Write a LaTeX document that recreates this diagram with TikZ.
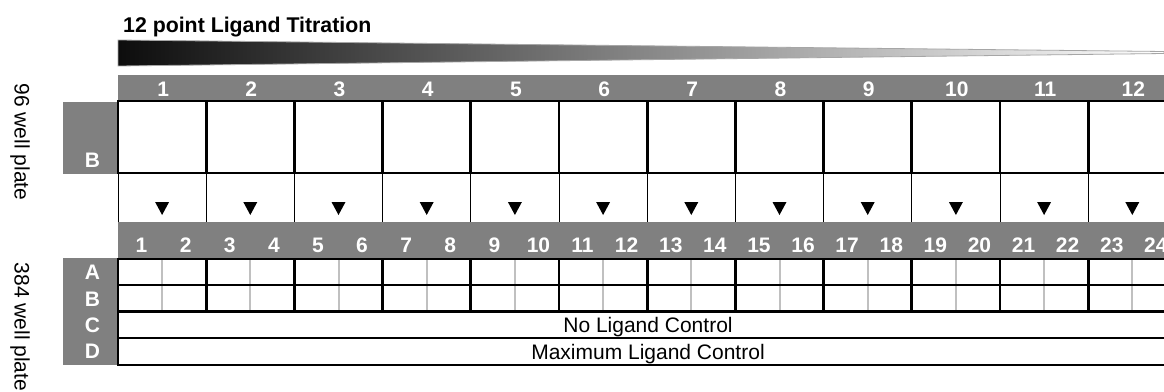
\documentclass[tikz,border=0pt]{standalone}
\usepackage{fontspec}
\setmainfont{Liberation Sans}
\definecolor{barGray}{HTML}{808080}
\definecolor{subGray}{HTML}{C0C0C0}
\begin{document}
\begin{tikzpicture}[x=1pt,y=-1pt,
  bar/.style={fill=barGray},
  num/.style={text=white,font=\fontsize{21}{24}\selectfont\bfseries,anchor=base,inner sep=0pt},
  txt/.style={font=\fontsize{21}{24}\selectfont,anchor=base,inner sep=0pt},
  thickgrid/.style={line width=2.7pt,line cap=rect},
  thingrid/.style={line width=1pt},
  subgrid/.style={line width=2pt,draw=subGray}
]
\clip (0,0) rectangle (1164,391);
\fill[white] (0,0) rectangle (1164,391);

% title and gradient wedge
\node[txt,font=\fontsize{21.3}{24}\selectfont\bfseries,anchor=base west] (title) at (123,32) {12 point Ligand Titration};
\shade[left color=black!95, middle color=black!42, right color=white]
  (118,40) -- (1164,51.5) -- (1164,53.5) -- (118,66) -- cycle;
\draw[draw=black!35,line width=0.8pt] (118,40) -- (1164,51.5) -- (1164,53.5) -- (118,66) -- cycle;

% grey bars
\fill[bar] (118,75) rectangle (1180,100);
\fill[bar] (63,102) rectangle (118,174);
\fill[bar] (118,222) rectangle (1180,258);
\fill[bar] (63,258) rectangle (118,365);

% 96 well plate row
\draw[thickgrid] (118,101) -- (1180,101);
\draw[thickgrid] (118,173) -- (1180,173);
\foreach \k in {0,...,12} {
  \draw[thickgrid] ({118+88.2*\k},101) -- ({118+88.2*\k},173);
  \draw[thingrid] ({118+88.2*\k},173) -- ({118+88.2*\k},222);
}
\foreach \i in {1,...,12} {
  \node[num] (c\i) at ({118+88.2*(\i-0.5)+1},96) {\i};
  \fill ({118+88.2*(\i-0.5)-7},202) -- ({118+88.2*(\i-0.5)+7},202) -- ({118+88.2*(\i-0.5)},215) -- cycle;
}
\node[num] (rowB96) at (92.5,167.5) {B};

% 384 well plate
\foreach \k in {0,...,12} {
  \draw[subgrid] ({118+88.2*\k+44.1},259) -- ({118+88.2*\k+44.1},311.5);
}
\foreach \yy in {259,285,311.5,338,365} {
  \draw[thickgrid] (118,\yy) -- (1180,\yy);
}
\foreach \k in {0,...,12} {
  \draw[thickgrid] ({118+88.2*\k},259) -- ({118+88.2*\k},311.5);
}
\draw[thickgrid] (118,311.5) -- (118,365);
\foreach \i in {1,...,24} {
  \node[num] (s\i) at ({118+44.1*(\i-0.5)+1.5},252.7) {\i};
}
\node[num] (rA) at (92.5,279.3) {A};
\node[num] (rB) at (92.5,306) {B};
\node[num] (rC) at (92.5,332.7) {C};
\node[num] (rD) at (92.5,358.7) {D};

\node[txt] (noLig) at (648,332) {No Ligand Control};
\node[txt] (maxLig) at (648,359) {Maximum Ligand Control};

% side labels
\node[txt,anchor=center,rotate=-90] (lab96) at (20,142) {96 well plate};
\node[txt,anchor=center,rotate=-90] (lab384) at (20,327) {384 well plate};
\end{tikzpicture}
\end{document}
